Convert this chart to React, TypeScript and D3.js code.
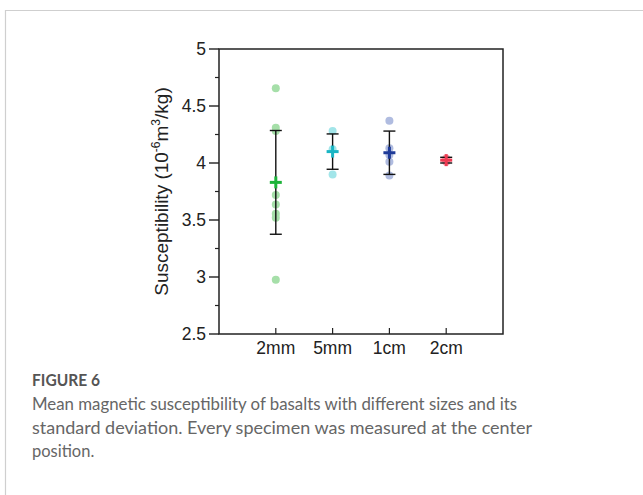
import React from "react";
import * as d3 from "d3";

const categories = ["2mm", "5mm", "1cm", "2cm"];
const pointsBySize: number[][] = [
  [4.655, 4.31, 4.28, 3.72, 3.635, 3.555, 3.52, 2.975],
  [4.28, 4.12, 3.9],
  [4.37, 4.13, 4.07, 4.01, 3.89],
  [4.04, 4.03, 4.01],
];
const means = [3.83, 4.1, 4.09, 4.025];
const sds = [0.455, 0.155, 0.19, 0.025];
const yTicks = [2.5, 3, 3.5, 4, 4.5, 5];
const yMinorTicks = [2.75, 3.25, 3.75, 4.25, 4.75];
const pointColors = ["#a6dfa9", "#a2e5e9", "#b0bce0", "#f5a3ae"];
const meanColors = ["#1db33a", "#1ab5c4", "#1f3b98", "#ef3a52"];
const captionTitle = "FIGURE 6";
const captionLines = [
  "Mean magnetic susceptibility of basalts with different sizes and its",
  "standard deviation. Every specimen was measured at the center",
  "position.",
];
const captionWidths = [485, 500, 0];

export default function App() {
  const W = 643, H = 495;
  const left = 219, right = 503, top = 49, bottom = 334;
  const x = d3.scaleLinear().domain([0, 5]).range([left, right]);
  const y = d3.scaleLinear().domain([2.5, 5]).range([bottom, top]);
  const font = "Arial, 'Liberation Sans', sans-serif";
  const capFont = "Lato, 'Open Sans', sans-serif";
  const arm = 6;
  const cap = 6;
  return (
    <svg width={W} height={H} style={{ position: "absolute", left: 0, top: 0, background: "#fff" }}>
      {/* page frame */}
      <line x1={5} x2={W} y1={10.5} y2={10.5} stroke="#cfcfcf" strokeWidth={1.2} />
      <line x1={5.5} x2={5.5} y1={10} y2={H} stroke="#cfcfcf" strokeWidth={1.2} />

      {/* plot box */}
      <rect x={left} y={top} width={right - left} height={bottom - top} fill="none" stroke="#222" strokeWidth={1.5} />

      {/* y ticks */}
      {yTicks.map((t) => (
        <g key={"yt" + t}>
          <line x1={left - 10} x2={left} y1={y(t)} y2={y(t)} stroke="#222" strokeWidth={1.4} />
          <text x={left - 13} y={y(t)} dy="0.35em" textAnchor="end" fontFamily={font} fontSize={17.5} fill="#222">
            {d3.format("")(t)}
          </text>
        </g>
      ))}
      {yMinorTicks.map((t) => (
        <line key={"ym" + t} x1={left - 4} x2={left} y1={y(t)} y2={y(t)} stroke="#222" strokeWidth={1.2} />
      ))}

      {/* x ticks */}
      {categories.map((c, i) => (
        <g key={"xt" + c}>
          <line x1={x(i + 1)} x2={x(i + 1)} y1={bottom} y2={bottom - 6} stroke="#222" strokeWidth={1.2} />
          <text x={x(i + 1)} y={bottom + 20} textAnchor="middle" fontFamily={font} fontSize={17.5} fill="#222">
            {c}
          </text>
        </g>
      ))}

      {/* y label */}
      <text
        transform={`translate(168, ${(top + bottom) / 2}) rotate(-90)`}
        textAnchor="middle"
        fontFamily={font}
        fontSize={19}
        fill="#222"
      >
        Susceptibility (10
        <tspan fontSize={12} dy={-8}>-6</tspan>
        <tspan dy={8}>m</tspan>
        <tspan fontSize={12} dy={-8}>3</tspan>
        <tspan dy={8}>/kg)</tspan>
      </text>

      {/* points */}
      {pointsBySize.map((pts, i) =>
        pts.map((v, j) => (
          <circle key={`p${i}-${j}`} cx={x(i + 1)} cy={y(v)} r={4} fill={pointColors[i]} />
        ))
      )}

      {/* error bars */}
      {means.map((m, i) => {
        const cx = x(i + 1);
        return (
          <g key={"eb" + i}>
            <line x1={cx} x2={cx} y1={y(m + sds[i])} y2={y(m - sds[i])} stroke="#111" strokeWidth={1.4} />
            <line x1={cx - cap} x2={cx + cap} y1={y(m + sds[i])} y2={y(m + sds[i])} stroke="#111" strokeWidth={1.4} />
            <line x1={cx - cap} x2={cx + cap} y1={y(m - sds[i])} y2={y(m - sds[i])} stroke="#111" strokeWidth={1.4} />
          </g>
        );
      })}

      {/* means */}
      {means.map((m, i) => {
        const cx = x(i + 1), cy = y(m);
        return (
          <g key={"m" + i} stroke={meanColors[i]} strokeWidth={3}>
            <line x1={cx - arm} x2={cx + arm} y1={cy} y2={cy} />
            <line x1={cx} x2={cx} y1={cy - arm} y2={cy + arm} />
          </g>
        );
      })}

      {/* caption */}
      <text x={32} y={386} fontFamily={capFont} fontSize={17} fontWeight={700} fill="#555" textLength={68} lengthAdjust="spacingAndGlyphs">
        {captionTitle}
      </text>
      {captionLines.map((l, i) => (
        <text
          key={"c" + i}
          x={32}
          y={410 + i * 23.5}
          fontFamily={capFont}
          fontSize={16.5}
          fill="#666"
          textLength={captionWidths[i] || undefined}
          lengthAdjust="spacingAndGlyphs"
        >
          {l}
        </text>
      ))}
    </svg>
  );
}
